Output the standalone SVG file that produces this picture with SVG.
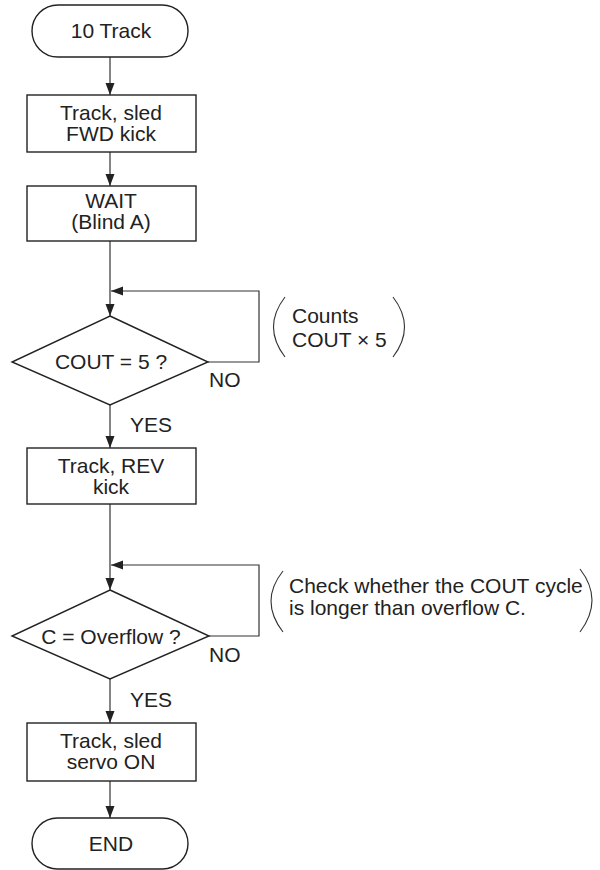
<svg xmlns="http://www.w3.org/2000/svg" width="600" height="870" viewBox="0 0 600 870">
<style>
.s{fill:#fff;stroke:#222;stroke-width:1.4}
.c{fill:none;stroke:#333;stroke-width:1.2}
.p{fill:none;stroke:#333;stroke-width:1.1}
text{font-family:"Liberation Sans",Arial,sans-serif;font-size:21px;fill:#222}
.m{text-anchor:middle}
</style>
<defs>
<marker id="ah" markerWidth="12" markerHeight="10" refX="12" refY="5" orient="auto" markerUnits="userSpaceOnUse">
<path d="M0,0.5 L12,5 L0,9.5 Z" fill="#222"/>
</marker>
</defs>
<g id="connectors">
<line class="c" x1="110" y1="57" x2="110" y2="95" marker-end="url(#ah)"/>
<line class="c" x1="110" y1="152" x2="110" y2="186" marker-end="url(#ah)"/>
<line class="c" x1="110" y1="241" x2="110" y2="316" marker-end="url(#ah)"/>
<polyline class="c" points="208,362 259,362 259,291 111,291" marker-end="url(#ah)"/>
<line class="c" x1="110" y1="405" x2="110" y2="448" marker-end="url(#ah)"/>
<line class="c" x1="110" y1="504" x2="110" y2="590" marker-end="url(#ah)"/>
<polyline class="c" points="209,636 259,636 259,565 111,565" marker-end="url(#ah)"/>
<line class="c" x1="110" y1="679" x2="110" y2="723" marker-end="url(#ah)"/>
<line class="c" x1="110" y1="781" x2="110" y2="818" marker-end="url(#ah)"/>
</g>
<g id="start">
<rect class="s" x="32" y="5" width="156" height="52" rx="26"/>
<text class="m" x="111" y="38">10 Track</text>
</g>
<g id="fwdkick">
<rect class="s" x="27" y="95" width="169" height="57"/>
<text class="m" x="111" y="120">Track, sled</text>
<text class="m" x="111" y="141">FWD kick</text>
</g>
<g id="wait">
<rect class="s" x="27" y="186" width="169" height="55"/>
<text class="m" x="111" y="208">WAIT</text>
<text class="m" x="111" y="229">(Blind A)</text>
</g>
<g id="cout5">
<polygon class="s" points="110,316 208,362 110,405 12,362"/>
<text class="m" x="111" y="369">COUT = 5 ?</text>
<text x="209" y="387">NO</text>
<text x="130" y="432">YES</text>
</g>
<g id="note1">
<path class="p" d="M285,297 Q262,327 285,357"/>
<path class="p" d="M393,297 Q416,327 393,357"/>
<text x="292" y="323">Counts</text>
<text x="292" y="347">COUT × 5</text>
</g>
<g id="revkick">
<rect class="s" x="27" y="448" width="169" height="56"/>
<text class="m" x="111" y="473">Track, REV</text>
<text class="m" x="111" y="494">kick</text>
</g>
<g id="overflow">
<polygon class="s" points="110,590 209,636 110,679 12,636"/>
<text class="m" x="111" y="644">C = Overflow ?</text>
<text x="209" y="662">NO</text>
<text x="130" y="707">YES</text>
</g>
<g id="note2">
<path class="p" d="M283,571 Q259,601 283,632"/>
<path class="p" d="M580,569 Q604,600 580,632"/>
<text x="289" y="593">Check whether the COUT cycle</text>
<text x="289" y="615">is longer than overflow C.</text>
</g>
<g id="servoon">
<rect class="s" x="27" y="723" width="169" height="58"/>
<text class="m" x="111" y="748">Track, sled</text>
<text class="m" x="111" y="769">servo ON</text>
</g>
<g id="end">
<rect class="s" x="32" y="818" width="156" height="51" rx="25.5"/>
<text class="m" x="111" y="851">END</text>
</g>
</svg>
